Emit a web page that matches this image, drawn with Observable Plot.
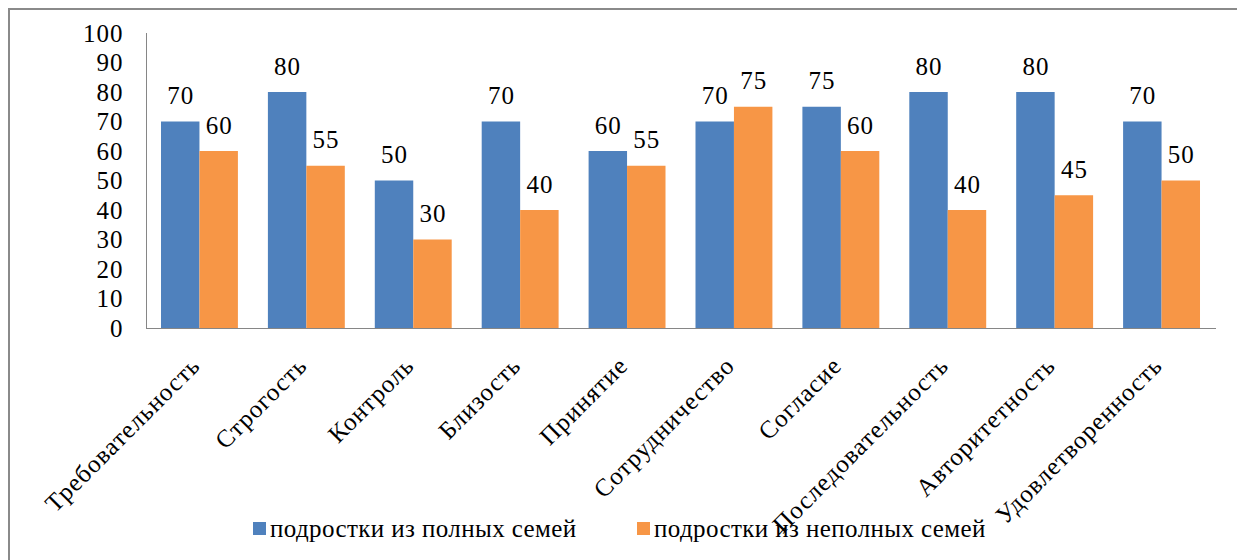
<!DOCTYPE html>
<html>
<head>
<meta charset="utf-8">
<script src="https://cdn.jsdelivr.net/npm/d3@7"></script>
<script src="https://cdn.jsdelivr.net/npm/@observablehq/plot@0.6"></script>
<style>
  body { margin: 0; background: #fff; font-family: 'Liberation Serif', serif; }
  #chart { position: relative; width: 1237px; height: 560px; overflow: hidden; font-family: 'Liberation Serif', serif; }
  #border { position: absolute; left: 8px; top: 8px; width: 1240px; height: 560px; border-top: 2px solid #8a8a8a; border-left: 2px solid #8a8a8a; pointer-events: none; }
  #chart svg { position: absolute; left: 0; top: 0; font-family: 'Liberation Serif', serif; }
  #chart svg text { letter-spacing: 1px; }
  #legend { position: absolute; top: 514px; left: 253px; display: flex; font-size: 25px; line-height: 29px; letter-spacing: 0.4px; color: #000; white-space: nowrap; font-family: 'Liberation Serif', serif; }
  #legend .item { display: flex; align-items: center; }
  #legend .item:first-child { width: 384px; }
  #legend .sw { width: 13px; height: 13px; margin-right: 4px; flex: none; }
</style>
</head>
<body>
<div id="chart"><div id="border"></div></div>
<script>
// Parenting-style scales, rated by teenagers from two-parent and single-parent families
const categories = [
  "Требовательность", "Строгость", "Контроль", "Близость", "Принятие",
  "Сотрудничество", "Согласие", "Последовательность", "Авторитетность", "Удовлетворенность"
];
const series = ["подростки из полных семей", "подростки из неполных семей"];
const fullFamilies = [70, 80, 50, 70, 60, 70, 75, 80, 80, 70];
const singleParentFamilies = [60, 55, 30, 40, 55, 75, 60, 40, 45, 50];
const seriesColors = ["#4F81BD", "#F79646"];
const yTicks = d3.range(0, 101, 10);

const rows = categories.flatMap((category, i) => [
  {category, series: series[0], value: fullFamilies[i]},
  {category, series: series[1], value: singleParentFamilies[i]}
]);

const serifFont = "Liberation Serif";
const axisColor = "#868686";

const plot = Plot.plot({
  width: 1237,
  height: 560,
  marginLeft: 146,
  marginRight: 22,
  marginTop: 33,
  marginBottom: 232,
  style: {fontFamily: serifFont, background: "transparent", color: "#000"},
  fx: {domain: categories, paddingInner: 0, paddingOuter: 0, round: false, label: null},
  x: {domain: series, paddingInner: 0, paddingOuter: 0.39, round: false, axis: null},
  y: {domain: [0, 100], label: null},
  color: {domain: series, range: seriesColors},
  marks: [
    Plot.barY(rows, {fx: "category", x: "series", y: "value", fill: "series"}),
    Plot.text(rows, {
      fx: "category", x: "series", y: "value", text: d => String(d.value),
      lineAnchor: "bottom", dy: -18, fontSize: 25, fontFamily: serifFont, fill: "#000"
    }),
    Plot.axisY({ticks: yTicks, tickSize: 0, tickPadding: 23, fontSize: 25, fontFamily: serifFont, label: null}),
    Plot.axisFx({
      anchor: "bottom", tickRotate: -45, tickSize: 0, tickPadding: 33, dx: -4,
      fontSize: 25, fontFamily: serifFont, label: null
    }),
    Plot.frame({anchor: "left", facet: "super", stroke: axisColor}),
    Plot.frame({anchor: "bottom", facet: "super", stroke: axisColor})
  ]
});

const chart = document.getElementById("chart");
chart.insertBefore(plot, chart.firstChild);

// Legend below the category labels
const legend = document.createElement("div");
legend.id = "legend";
series.forEach((name, i) => {
  const item = document.createElement("div");
  item.className = "item";
  const sw = document.createElement("span");
  sw.className = "sw";
  sw.style.background = seriesColors[i];
  const label = document.createElement("span");
  label.textContent = name;
  item.append(sw, label);
  legend.append(item);
});
chart.append(legend);
</script>
</body>
</html>
